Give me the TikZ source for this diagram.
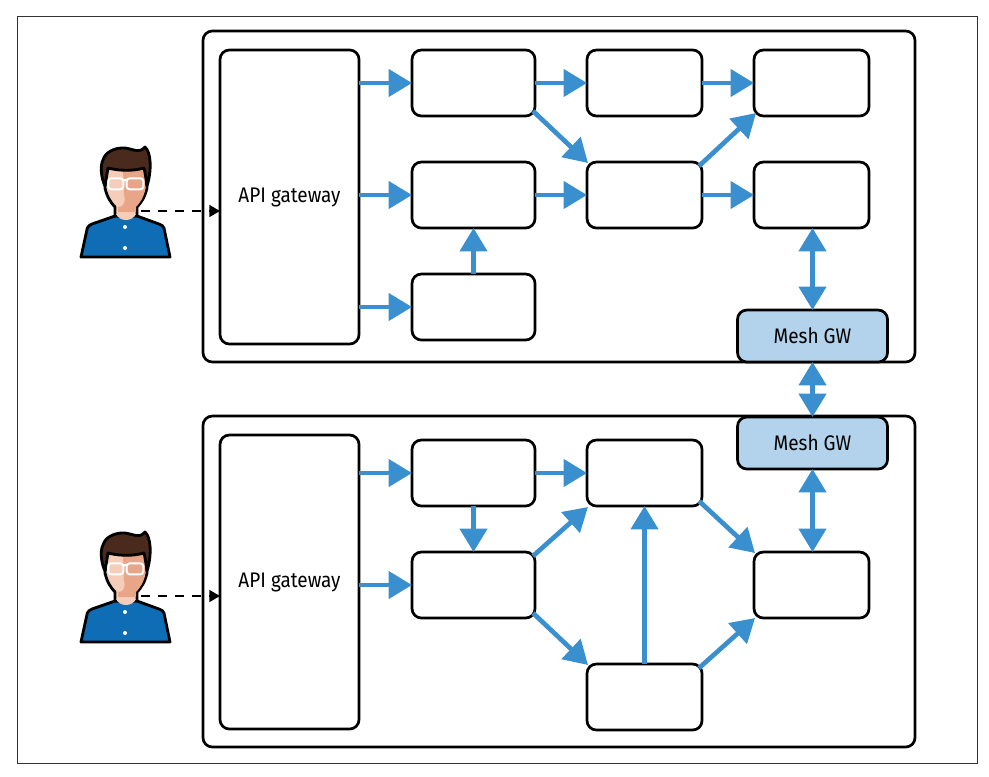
\documentclass[tikz,border=0pt]{standalone}
\usepackage{xcolor}
\usepackage{fontspec}
\setmainfont[FakeStretch=0.9]{Fira Sans}
\usetikzlibrary{positioning,arrows.meta}
\definecolor{flowBlue}{HTML}{3A8FCE}
\definecolor{meshBlue}{HTML}{B2D3EB}
\definecolor{shirtBlue}{HTML}{0F6DB5}
\definecolor{hairBrown}{HTML}{4A2A1C}
\definecolor{skinLight}{HTML}{F6CDB8}
\definecolor{skinDark}{HTML}{E9A588}

\tikzset{
  panel/.style={draw,line width=2.3pt,rounded corners=8pt,minimum width=21.36cm,minimum height=9.93cm,outer sep=0pt},
  gateway/.style={draw,line width=2.3pt,rounded corners=8pt,minimum width=4.17cm,minimum height=8.82cm,outer sep=0pt,font=\fontsize{18}{21}\selectfont},
  wide/.style={draw,line width=2.3pt,rounded corners=8pt,minimum width=3.69cm,minimum height=1.98cm,outer sep=0pt},
  narrow/.style={draw,line width=2.3pt,rounded corners=8pt,minimum width=3.45cm,minimum height=1.98cm,outer sep=0pt},
  mesh/.style={draw,fill=meshBlue,line width=2.3pt,rounded corners=8pt,minimum width=4.5cm,minimum height=1.56cm,outer sep=0pt,font=\fontsize{18}{21}\selectfont},
  flow/.style={draw=flowBlue,line width=4pt,-{Triangle[length=20pt,width=23pt]}},
  both/.style={draw=flowBlue,line width=4pt,{Triangle[length=20pt,width=23pt]}-{Triangle[length=20pt,width=23pt]}},
  request/.style={line width=1.7pt,dash pattern=on 8pt off 6.5pt,-{Triangle[length=9pt,width=10pt]}},
  person/.pic={
    % shirt
    \draw[line width=2.4pt,fill=shirtBlue,line join=round] (81,257) -- (87.3,228) .. controls (88,226) and (90,225) .. (92,224) -- (115,216) -- (137,216) -- (159,224) .. controls (162,225) and (163,226) .. (164,228) -- (170,257) -- cycle;
    % face and neck
    \draw[line width=2.4pt,fill=skinLight,line join=round] (106,168) -- (105,188) .. controls (107,197) and (111,203) .. (115,207) -- (115,216) -- (137,216) -- (137,207) .. controls (141,203) and (145,197) .. (147,188) -- (145,168) -- cycle;
    \fill[skinDark] (123,170) -- (144,170) -- (145.5,188) .. controls (144,197) and (140,203) .. (136,207) -- (136,212) -- (118,212) -- (118,207) .. controls (124,208) and (126,200) .. (124,195) -- cycle;
    \fill[skinLight] (116,214) -- (136,214) .. controls (132,222) and (120,222) .. (116,214) -- cycle;
    % hair
    \draw[line width=2.4pt,fill=hairBrown,line join=round] (105,186) .. controls (101,178) and (100,165) .. (103,160) .. controls (105,152) and (115,148) .. (122,148) .. controls (130,147) and (139,155) .. (145,147) .. controls (151,152) and (152,170) .. (147,186) .. controls (146,178) and (145,172) .. (144,168) .. controls (130,172) and (116,170) .. (108,168) .. controls (107,174) and (106,180) .. (105,186) -- cycle;
    % glasses
    \draw[white,line width=1.7pt,rounded corners=2.5pt] (108.3,178.3) rectangle (123.3,189.3) (126.7,178.3) rectangle (143.3,189.3) (123.3,180) -- (126.7,180);
    % buttons
    \fill[white] (125,227) circle (2) (125,248) circle (2);
  }
}

\begin{document}
\begin{tikzpicture}[x=0.03cm,y=-0.03cm]
  \useasboundingbox (0,0) rectangle (989,776);
  \node[draw=black!80,line width=0.8pt,minimum width=28.8cm,minimum height=22.4cm,outer sep=0pt] (frame) at (497.5,390) {};

  % upper mesh
  \node[panel] (upper) at (559,196.5) {};
  \node[gateway] (apiA) at (289.5,197) {API gateway};
  \node[wide,right=1.59cm of apiA.north east,anchor=north west] (a1) {};
  \node[narrow,right=1.56cm of a1] (a2) {};
  \node[narrow,right=1.56cm of a2] (a3) {};
  \node[wide,below=1.38cm of a1] (b1) {};
  \node[narrow,below=1.38cm of a2] (b2) {};
  \node[narrow,below=1.38cm of a3] (b3) {};
  \node[wide,below=1.38cm of b1] (c1) {};
  \node[mesh] (meshA) at (812.5,336) {Mesh GW};

  % lower mesh
  \node[panel] (lower) at (559,581.5) {};
  \node[gateway] (apiB) at (289.5,582) {API gateway};
  \node[wide,anchor=north west] (d1) at (412,440) {};
  \node[narrow,right=1.56cm of d1] (d2) {};
  \node[wide,below=1.38cm of d1] (e1) {};
  \node[narrow,right=6.57cm of e1] (e3) {};
  \node[narrow,below=1.38cm of e1.south east,anchor=north west,xshift=1.56cm] (f2) {};
  \node[mesh] (meshB) at (812.5,443) {Mesh GW};

  \path (0,0) pic {person};
  \path (0,385) pic {person};
  \coordinate (userA) at (141,211);
  \coordinate (userB) at (141,596);
  \draw[request] (userA) -- (apiA.west |- userA);
  \draw[request] (userB) -- (apiB.west |- userB);

  \draw[flow] (apiA.east |- a1) -- (a1);
  \draw[flow] (apiA.east |- b1) -- (b1);
  \draw[flow] (apiA.east |- c1) -- (c1);
  \draw[flow] (a1) -- (a2);
  \draw[flow] (a2) -- (a3);
  \draw[flow] (b1) -- (b2);
  \draw[flow] (b2) -- (b3);
  \draw[flow] (c1) -- (b1);
  \draw[flow] ([shift={(-2,-5)}]a1.south east) -- ([shift={(1,1)}]b2.north west);
  \draw[flow] ([shift={(-3,4)}]b2.north east) -- ([shift={(2,-3)}]a3.south west);
  \draw[both] (b3.south -| meshA) -- (meshA);
  \draw[both] (meshA) -- (meshB);

  \draw[flow] (apiB.east |- d1) -- (d1);
  \draw[flow] (apiB.east |- e1) -- (e1);
  \draw[flow] (d1) -- (d2);
  \draw[flow] (d1) -- (e1);
  \draw[flow] ([shift={(-2,4)}]e1.north east) -- ([shift={(1,1)}]d2.south west);
  \draw[flow] ([shift={(-2,-5)}]e1.south east) -- ([shift={(1,1)}]f2.north west);
  \draw[flow] (f2) -- (d2);
  \draw[flow] ([shift={(-3,-5)}]d2.south east) -- ([shift={(1,1)}]e3.north west);
  \draw[flow] ([shift={(-3,4)}]f2.north east) -- ([shift={(1,0)}]e3.south west);
  \draw[both] (meshB) -- (e3.north -| meshB);
\end{tikzpicture}
\end{document}
